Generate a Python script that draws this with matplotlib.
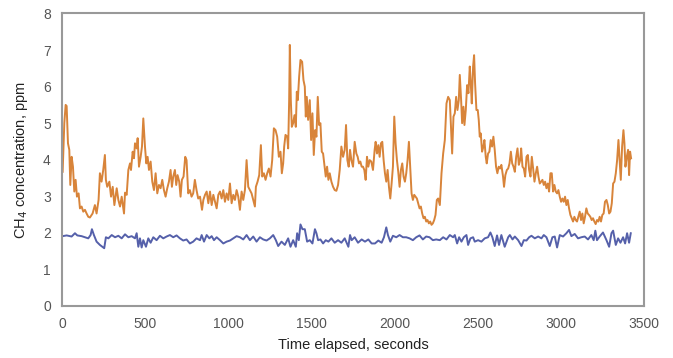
import numpy as np
import matplotlib
matplotlib.use('Agg')
import matplotlib.pyplot as plt

# CH4 readings (time in s, concentration in ppm)
orange_t = [4, 14, 22, 28, 36, 44, 50, 58, 66, 74, 82, 90, 100, 108, 118, 128, 138, 148, 158, 168,
            184, 198, 208, 220, 228, 238, 248, 258, 264, 272, 285, 295, 305, 315, 329, 339, 349, 359,
            373, 379, 389, 399, 409, 415, 425, 433, 439, 449, 455, 463, 473, 481, 489, 499, 507, 515,
            523, 533, 543, 553, 563, 573, 583, 593, 603, 613, 623, 633, 643, 653, 661, 669, 679, 687,
            695, 705, 713, 721, 731, 741, 749, 759, 769, 779, 789, 799, 809, 819, 830, 842, 850, 860,
            870, 880, 890, 900, 910, 920, 930, 940,
            950, 960, 970, 980, 990, 1000, 1010, 1020, 1030, 1040, 1050, 1060, 1070, 1080, 1090, 1100,
            1110, 1120, 1130, 1140, 1150, 1160, 1166, 1176, 1186, 1196, 1204, 1214, 1224, 1234, 1244,
            1254, 1264, 1274, 1284, 1294, 1304, 1314, 1322, 1330, 1336, 1344, 1354, 1360, 1366, 1370,
            1376, 1382, 1390, 1398, 1406, 1412, 1418, 1426, 1434, 1444, 1452, 1460, 1466, 1472, 1480,
            1490, 1498, 1506, 1514, 1522, 1530, 1538, 1546, 1554, 1562, 1570, 1578, 1586, 1594, 1602,
            1610, 1620, 1630, 1640, 1650, 1660, 1670, 1680, 1690, 1700, 1708, 1716, 1724, 1732, 1740,
            1750, 1760, 1770, 1778, 1786, 1794, 1802, 1810, 1818, 1826, 1834, 1842, 1850, 1860, 1870,
            1880, 1886, 1894, 1902, 1910, 1918, 1926, 1934, 1942, 1950, 1958, 1966, 1974, 1982, 1990,
            1998, 2006, 2014, 2022, 2030, 2038, 2046, 2054, 2062, 2070, 2078, 2086, 2094, 2102, 2110,
            2118, 2126, 2134, 2142, 2150, 2158, 2166, 2174, 2182, 2190, 2198, 2206, 2214, 2222, 2230,
            2238, 2246, 2254, 2262,
            2272, 2282, 2292, 2302, 2312, 2322, 2332, 2340, 2346, 2354, 2362, 2370, 2378, 2386, 2392,
            2400, 2406, 2414, 2420, 2428, 2436, 2444, 2452, 2458, 2464, 2472, 2478, 2484, 2492, 2500,
            2506, 2512, 2518, 2526, 2534, 2540, 2548, 2554, 2562, 2570, 2578, 2586, 2594, 2602, 2610,
            2618, 2626, 2634, 2642, 2652, 2658, 2666, 2675, 2683, 2691, 2699, 2707, 2715, 2723, 2731,
            2739, 2747, 2755, 2761, 2769, 2777, 2785, 2793, 2801, 2809, 2817, 2825, 2833, 2841, 2849,
            2857, 2865, 2873, 2881, 2889, 2897, 2905, 2913, 2921, 2929, 2937, 2945, 2953, 2961, 2969,
            2977, 2985, 2993, 3001, 3009, 3017, 3025, 3033, 3041, 3049, 3057, 3065, 3073, 3081, 3089,
            3097, 3105, 3113, 3121, 3129, 3137, 3145, 3153, 3161, 3169, 3177, 3185, 3193, 3201, 3209,
            3217, 3225, 3233, 3241, 3249, 3257, 3265, 3274, 3282, 3290, 3298, 3306, 3314, 3322, 3330,
            3338, 3346, 3354, 3360, 3368, 3376, 3382, 3388, 3396, 3404, 3410, 3416, 3422]
orange_v = [3.67, 5.00, 5.50, 5.47, 4.45, 4.27, 3.31, 4.08, 3.81, 3.13, 3.45, 2.99, 3.08, 2.67, 2.72,
            2.58, 2.63, 2.53, 2.44, 2.42, 2.53, 2.76, 2.53, 2.90, 3.63, 3.40, 3.72, 4.13, 3.45, 3.26,
            3.40, 2.99, 3.26, 2.76, 3.22, 2.90, 2.72, 2.99, 2.53, 3.10, 3.04, 3.72, 3.90, 3.72, 4.22,
            4.04, 4.45, 4.31, 4.59, 3.81, 4.08, 4.36, 5.13, 4.36, 3.90, 4.08, 3.72, 3.95, 3.40, 3.17,
            3.63, 3.08, 3.31, 3.22, 3.45, 3.17, 2.99, 3.22, 3.40, 3.72, 3.26, 3.54, 3.72, 3.31, 3.58,
            3.40, 2.99, 3.45, 3.54, 4.08, 3.99, 3.08, 3.17, 2.99, 3.08, 3.45, 3.17, 2.94, 2.99, 2.63,
            2.90, 3.04, 3.13, 2.81, 3.13, 2.76, 3.04, 2.85, 2.67, 3.04,
            3.13, 2.94, 3.17, 2.85, 3.08, 2.90, 3.35, 2.81, 3.04, 2.90, 3.17, 2.99, 2.63, 3.13, 2.90,
            3.17, 3.99, 3.26, 3.17, 3.08, 2.90, 2.72, 3.26, 3.40, 3.58, 4.40, 3.54, 3.63, 3.45, 3.63,
            3.76, 3.54, 3.99, 4.86, 4.81, 4.63, 4.08, 4.22, 3.63, 3.90, 4.36, 4.68, 4.63, 4.31, 5.63,
            7.14, 5.63, 4.90, 5.00, 5.22, 4.90, 5.86, 5.63, 6.27, 6.73, 6.68, 6.18, 6.00, 5.18, 5.72,
            5.09, 5.63, 4.54, 5.27, 4.13, 4.81, 4.63, 5.72, 4.95, 5.00, 4.22, 4.17, 3.86, 3.54, 3.81,
            3.45, 3.63, 3.40, 3.26, 3.17, 3.15, 3.31, 3.72, 4.36, 4.08, 4.27, 4.95, 3.99, 3.81, 4.27,
            3.99, 3.81, 4.49, 4.17, 4.08, 3.90, 3.95, 3.81, 3.81, 3.72, 3.45, 4.08, 3.81, 3.99, 3.95,
            3.72, 4.27, 4.49, 4.17, 4.40, 4.08, 4.45, 4.49, 3.99, 3.63, 3.40, 3.72, 3.26, 2.94, 3.35,
            3.81, 5.18, 4.45, 3.99, 3.67, 3.26, 3.72, 3.90, 3.54, 3.40, 3.63, 3.99, 4.49, 3.81, 3.08,
            2.90, 3.04, 2.99, 2.94, 2.81, 2.67, 2.72, 2.53, 2.40, 2.44, 2.31, 2.35, 2.26, 2.31, 2.22,
            2.26, 2.35, 2.49, 2.90, 2.94,
            2.76, 3.63, 4.17, 4.54, 5.54, 5.72, 5.63, 4.81, 4.17, 5.18, 5.27, 5.72, 5.36, 5.63, 6.32,
            5.63, 5.00, 5.45, 4.95, 5.36, 6.04, 5.82, 6.55, 6.09, 5.54, 6.55, 6.86, 6.09, 5.36, 5.36,
            5.09, 4.63, 4.72, 4.22, 4.36, 4.54, 4.08, 3.90, 4.17, 4.22, 4.54, 4.36, 4.63, 4.27, 3.81,
            3.63, 3.81, 3.76, 3.86, 3.54, 3.26, 3.58, 3.72, 3.76, 3.90, 4.22, 3.90, 3.81, 3.67, 4.08,
            4.31, 3.86, 3.99, 4.31, 3.81, 3.76, 3.54, 4.08, 4.13, 3.72, 3.54, 4.08, 3.76, 3.40, 3.63,
            3.81, 3.54, 3.35, 3.40, 3.45, 3.31, 3.40, 3.22, 3.35, 3.13, 3.63, 3.63, 3.13, 3.31, 3.13,
            3.08, 3.17, 2.99, 2.85, 2.94, 2.85, 2.99, 2.76, 2.90, 2.67, 2.49, 2.40, 2.31, 2.44, 2.35,
            2.31, 2.44, 2.58, 2.35, 2.53, 2.26, 2.44, 2.67, 2.53, 2.49, 2.44, 2.35, 2.40, 2.31, 2.24,
            2.35, 2.31, 2.44, 2.31, 2.49, 2.53, 2.85, 2.90, 2.76, 2.53, 2.58, 2.81, 3.35, 3.40, 3.63,
            3.99, 4.54, 3.90, 3.45, 4.36, 4.81, 4.45, 3.81, 4.08, 4.27, 3.58, 4.22, 4.04]

blue_t = [4, 28, 58, 78, 92, 118, 138, 158, 172, 180, 192, 208, 228, 248, 254, 264, 279, 299, 319, 339,
          359, 379, 399, 419, 439, 449, 459, 469, 479, 489, 505, 519, 533, 549, 569, 589, 609, 629, 649,
          669, 689, 709, 729, 749, 769, 789, 809, 830, 840, 854, 870, 886, 900, 914, 930,
          950, 970, 990, 1010, 1030, 1050, 1070, 1090, 1110, 1130, 1150, 1170, 1190, 1210, 1230, 1250,
          1270, 1286, 1300, 1320, 1340, 1360, 1374, 1390, 1406, 1414, 1424, 1434, 1446, 1460, 1474,
          1490, 1506, 1521, 1530, 1540, 1554, 1570, 1586, 1602, 1620, 1640, 1660, 1680, 1700, 1722,
          1732, 1742, 1760, 1780, 1802, 1822, 1842, 1862, 1882, 1902, 1922, 1936, 1950, 1960, 1974,
          1990, 2010, 2030, 2050, 2070, 2090, 2110, 2130, 2150, 2170, 2190, 2210, 2230, 2250,
          2272, 2292, 2312, 2332, 2352, 2362, 2376, 2388, 2402, 2416, 2432, 2442, 2456, 2472, 2482,
          2502, 2522, 2542, 2562, 2576, 2588, 2602, 2616, 2628, 2642, 2662, 2683, 2693, 2709, 2723,
          2743, 2763, 2777, 2793, 2809, 2823, 2843, 2863, 2883, 2897, 2913, 2933, 2949, 2963, 2977,
          2993, 3013, 3033, 3049, 3063, 3083, 3103, 3123, 3143, 3163, 3183, 3197, 3207, 3217, 3233,
          3253, 3274, 3290, 3304, 3314, 3330, 3344, 3358, 3374, 3386, 3398, 3410, 3420]
blue_v = [1.91, 1.93, 1.90, 1.99, 1.93, 1.91, 1.88, 1.85, 1.94, 2.10, 1.94, 1.76, 1.67, 1.60, 1.58,
          1.88, 1.85, 1.94, 1.88, 1.92, 1.85, 1.96, 1.88, 1.91, 1.85, 1.99, 1.62, 1.85, 1.60, 1.80,
          1.62, 1.85, 1.73, 1.88, 1.80, 1.92, 1.85, 1.90, 1.94, 1.88, 1.93, 1.85, 1.79, 1.82, 1.71,
          1.76, 1.85, 1.80, 1.94, 1.76, 1.94, 1.85, 1.91, 1.80, 1.88,
          1.80, 1.71, 1.76, 1.79, 1.85, 1.91, 1.88, 1.82, 1.94, 1.80, 1.90, 1.76, 1.88, 1.82, 1.79,
          1.85, 1.94, 1.80, 1.64, 1.76, 1.67, 1.85, 1.62, 1.80, 1.62, 1.99, 1.80, 2.23, 2.10, 2.10,
          1.76, 1.80, 1.71, 2.10, 1.99, 1.80, 1.82, 1.71, 1.80, 1.76, 1.85, 1.73, 1.80, 1.73, 1.85,
          1.62, 1.94, 1.80, 1.88, 1.73, 1.82, 1.76, 1.82, 1.71, 1.71, 1.79, 1.73, 1.88, 2.15, 1.94,
          1.76, 1.92, 1.88, 1.94, 1.88, 1.88, 1.85, 1.80, 1.88, 1.93, 1.82, 1.90, 1.88, 1.80, 1.82,
          1.80, 1.88, 1.82, 1.94, 1.88, 1.94, 1.71, 1.88, 1.76, 1.88, 1.94, 1.67, 1.85, 1.88, 1.76,
          1.80, 1.76, 1.85, 1.88, 2.01, 1.88, 1.64, 1.93, 1.67, 1.94, 1.62, 1.88, 1.94, 1.82, 1.90,
          1.80, 1.64, 1.80, 1.79, 1.88, 1.92, 1.85, 1.90, 1.85, 1.94, 1.88, 1.64, 1.88, 1.90, 1.60,
          1.94, 1.90, 1.99, 2.08, 1.91, 1.97, 1.85, 1.88, 1.90, 1.82, 1.94, 1.80, 2.06, 1.80, 1.90,
          2.01, 1.80, 1.62, 1.99, 2.06, 1.67, 1.85, 1.73, 1.88, 1.71, 1.99, 1.73, 1.99]

xticks = [0, 500, 1000, 1500, 2000, 2500, 3000, 3500]
yticks = [0, 1, 2, 3, 4, 5, 6, 7, 8]

plt.rcParams['font.family'] = ['Liberation Sans', 'DejaVu Sans']

fig = plt.figure(figsize=(6.73, 3.58), dpi=100)
ax = fig.add_axes([0.0921, 0.1453, 0.8649, 0.8170])

ax.plot(orange_t, orange_v, color='#d8843a', lw=1.4, solid_joinstyle='round')
ax.plot(blue_t, blue_v, color='#5560aa', lw=1.4, solid_joinstyle='round')

ax.set_xlim(0, 3500)
ax.set_ylim(0, 8)
ax.set_xticks(xticks)
ax.set_yticks(yticks)
ax.tick_params(length=0, labelsize=10, labelcolor='#555555', pad=8)
for s in ax.spines.values():
    s.set_color('#999999')
    s.set_linewidth(1.5)

ax.set_xlabel('Time elapsed, seconds', fontsize=10.5, color='#222222', labelpad=5)
ax.set_ylabel('CH$_4$ concentration, ppm', fontsize=10.5, color='#222222', labelpad=9)

fig.savefig('out.png', dpi=100)
